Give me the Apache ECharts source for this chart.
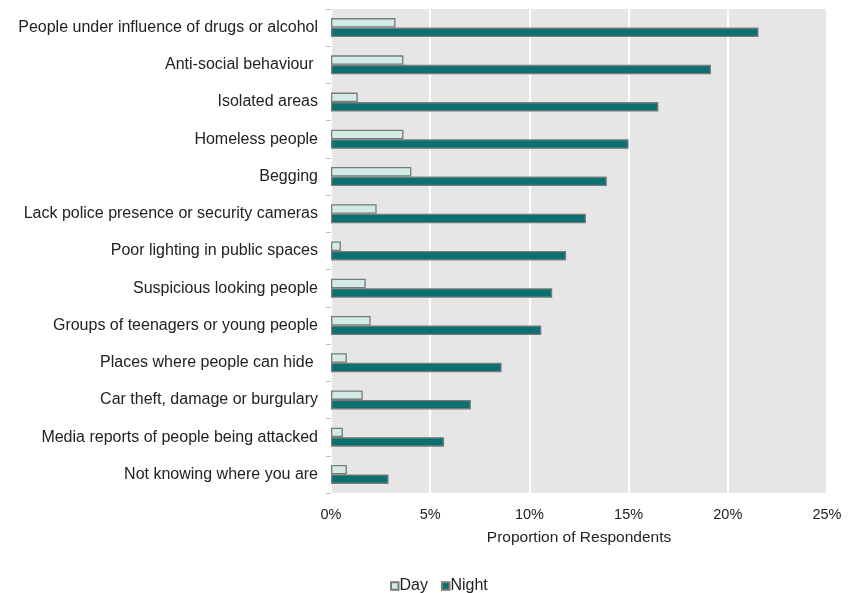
<!DOCTYPE html>
<html>
<head>
<meta charset="utf-8">
<script src="https://cdn.jsdelivr.net/npm/echarts@6/dist/echarts.min.js"></script>
<style>
  html, body { margin: 0; padding: 0; background: #fff; }
  #chart { width: 865px; height: 593px; }
</style>
</head>
<body>
<div id="chart"></div>
<script>
// Reasons for feeling unsafe, top to bottom
const categories = [
  'People under influence of drugs or alcohol',
  'Anti-social behaviour ',
  'Isolated areas',
  'Homeless people',
  'Begging',
  'Lack police presence or security cameras',
  'Poor lighting in public spaces',
  'Suspicious looking people',
  'Groups of teenagers or young people',
  'Places where people can hide ',
  'Car theft, damage or burgulary',
  'Media reports of people being attacked',
  'Not knowing where you are'
];

// Proportion of respondents (%)
const dayValues   = [3.25, 3.65, 1.35, 3.65, 4.05, 2.3, 0.5, 1.75, 2.0, 0.8, 1.6, 0.6, 0.8];
const nightValues = [21.55, 19.15, 16.5, 15.0, 13.9, 12.85, 11.85, 11.15, 10.6, 8.6, 7.05, 5.7, 2.9];

const xTicks = [0, 5, 10, 15, 20, 25];

const font = 'Liberation Sans, Arial, sans-serif';
const chart = echarts.init(document.getElementById('chart'));

chart.setOption({
  animation: false,
  textStyle: { fontFamily: font },
  grid: {
    left: 331, right: 38, top: 9, bottom: 100,
    show: true, backgroundColor: '#e6e6e6', borderWidth: 0
  },
  legend: {
    data: ['Day', 'Night'],
    left: 390, top: 578, padding: 0,
    itemWidth: 7.5, itemHeight: 7.5, itemGap: 13,
    icon: 'rect',
    textStyle: { fontFamily: font, fontSize: 16, color: '#222', padding: [0, 0, 0, -4] }
  },
  xAxis: {
    type: 'value',
    min: xTicks[0], max: xTicks[xTicks.length - 1], interval: 5,
    name: 'Proportion of Respondents',
    nameLocation: 'middle', nameGap: 37,
    nameTextStyle: { fontFamily: font, fontSize: 15.5, color: '#222' },
    axisLine: { show: false },
    axisTick: { show: false },
    axisLabel: { formatter: '{value}%', fontSize: 14.5, color: '#222', margin: 14 },
    splitLine: { show: true, lineStyle: { color: '#ffffff', width: 2 } }
  },
  yAxis: {
    type: 'category',
    data: categories,
    inverse: true,
    axisLine: { show: false },
    axisTick: { show: true, length: 5, lineStyle: { color: '#bfbfbf' } },
    axisLabel: { fontSize: 16, color: '#222', margin: 13 },
    splitLine: { show: false }
  },
  series: [
    {
      name: 'Day', type: 'bar', data: dayValues,
      barWidth: 9.5, barGap: '0%',
      itemStyle: { color: '#d1ece6', borderColor: '#7a7a7a', borderWidth: 1.3 }
    },
    {
      name: 'Night', type: 'bar', data: nightValues,
      barWidth: 9.5, barGap: '0%',
      itemStyle: { color: '#0b7070', borderColor: '#7a7a7a', borderWidth: 1.3 }
    }
  ]
});
</script>
</body>
</html>
